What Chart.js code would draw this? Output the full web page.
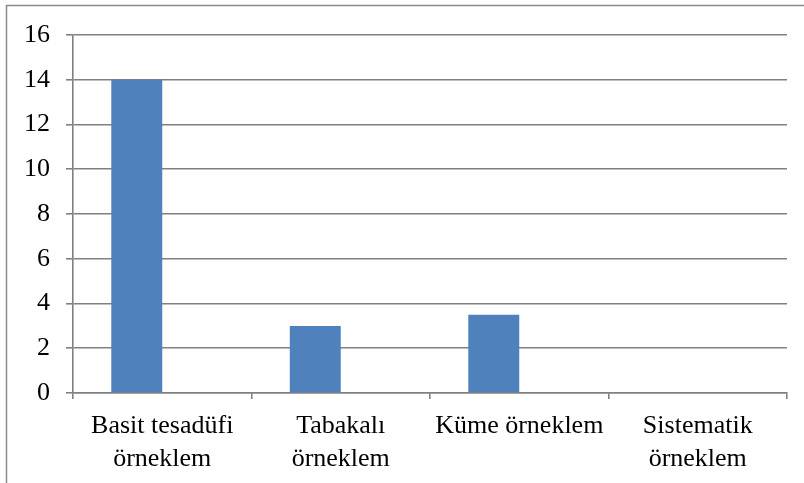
<!DOCTYPE html>
<html>
<head>
<meta charset="utf-8">
<script src="https://cdn.jsdelivr.net/npm/chart.js@4"></script>
<style>
html,body{margin:0;padding:0;background:#fff;}
#wrap{position:relative;width:804px;height:483px;}
</style>
</head>
<body>
<div id="wrap"><canvas id="c" width="804" height="483"></canvas></div>
<script>
const categories = [["Basit tesadüfi","örneklem"],["Tabakalı","örneklem"],"Küme örneklem",["Sistematik","örneklem"]];
const series1 = [14, 3, 3.5, 0];
const series2 = [null, null, null, null];
const yTicks = {min: 0, max: 16, step: 2};

const frame = {
  id: 'frame',
  beforeDraw(chart) {
    const ctx = chart.ctx;
    ctx.save();
    ctx.fillStyle = '#fff';
    ctx.fillRect(0, 0, chart.width, chart.height);
    ctx.strokeStyle = '#8a8a8a';
    ctx.lineWidth = 1.5;
    ctx.strokeRect(6.5, 5.5, 820, 500);
    ctx.restore();
  }
};

new Chart(document.getElementById('c'), {
  type: 'bar',
  data: {
    labels: categories,
    datasets: [
      {data: series1, backgroundColor: '#4F81BD', borderWidth: 0},
      {data: series2, backgroundColor: '#C0504D'}
    ]
  },
  options: {
    responsive: false,
    animation: false,
    devicePixelRatio: 1,
    categoryPercentage: 0.571,
    barPercentage: 1.0,
    layout: {padding: {left: 0, top: 35, right: 17, bottom: 0}},
    plugins: {legend: {display: false}, tooltip: {enabled: false}},
    scales: {
      x: {
        grid: {offset: true, drawOnChartArea: false, drawTicks: true, tickLength: 6, color: '#808080', lineWidth: 1.6},
        border: {display: true, color: '#808080', width: 1.6},
        ticks: {color: '#000', font: {family: 'Liberation Serif', size: 26, lineHeight: 1.25}, padding: 11, maxRotation: 0, autoSkip: false},
        afterFit(s) { s.height = 90; }
      },
      y: {
        min: yTicks.min, max: yTicks.max,
        grid: {color: '#808080', lineWidth: 1.6, tickLength: 7, drawTicks: true},
        border: {display: true, color: '#808080', width: 1.6},
        ticks: {stepSize: yTicks.step, color: '#000', font: {family: 'Liberation Serif', size: 26}, padding: 16},
        afterFit(s) { s.width = 73; }
      }
    }
  },
  plugins: [frame]
});
</script>
</body>
</html>
